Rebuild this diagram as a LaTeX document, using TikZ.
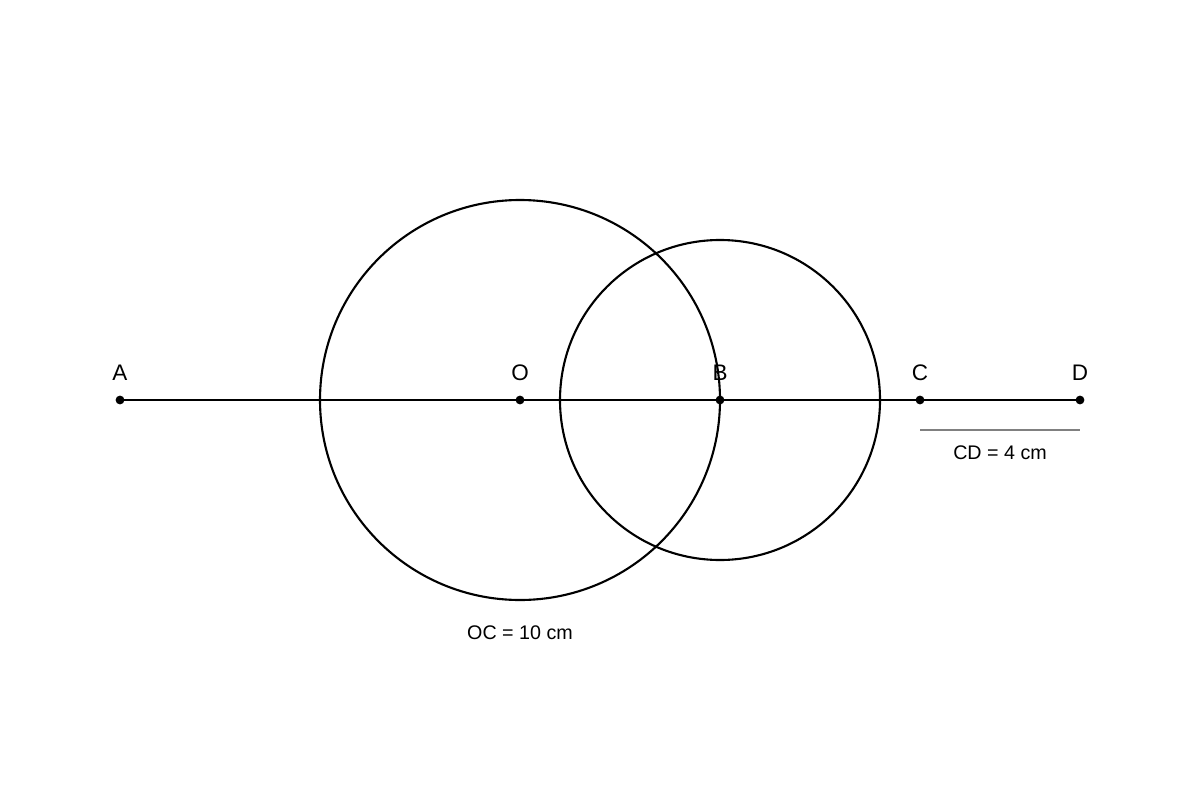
\documentclass[tikz,border=0pt]{standalone}
\usepackage{fontspec}
\setmainfont{Liberation Sans}
\begin{document}
\begin{tikzpicture}[x=0.025cm,y=-0.025cm,
  geo/.style={line width=1.5pt,black},
  pt/.style={circle,fill=black,inner sep=0pt,minimum size=0.22cm},
  lbl/.style={font=\fontsize{16}{18}\selectfont,inner sep=0pt},
  note/.style={font=\fontsize{14}{16}\selectfont,inner sep=0pt}]
\useasboundingbox (0,0) rectangle (1200,800);
\coordinate (A) at (120,400);
\coordinate (O) at (520,400);
\coordinate (B) at (720,400);
\coordinate (C) at (920,400);
\coordinate (D) at (1080,400);
\draw[geo] (O) circle[radius=200];
\draw[geo] (B) circle[radius=160];
\draw[geo] (A) -- (D);
\foreach \p in {A,O,B,C,D} {
  \node[pt] (dot\p) at (\p) {};
  \node[lbl] (lab\p) at ([yshift=0.675cm]\p) {\p};
}
\coordinate (g1) at (920,430);
\coordinate (g2) at (1080,430);
\draw[line width=1.5pt,color=black!50] (g1) -- (g2);
\node[note] (cd) at (1000,453) {CD = 4 cm};
\node[note] (oc) at (520,633) {OC = 10 cm};
\end{tikzpicture}
\end{document}
